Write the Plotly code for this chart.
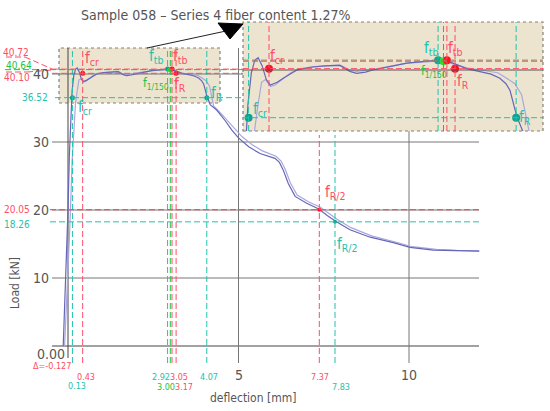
import plotly.graph_objects as go

# ---------------- data ----------------
curve_a_x = [-0.14, -0.10, -0.05, 0.00, 0.04, 0.08, 0.12, 0.17, 0.22, 0.27, 0.33, 0.39, 0.45, 0.55, 0.64,
             0.84, 1.04, 1.25, 1.47, 1.62, 1.72, 1.85, 1.96, 2.21, 2.46, 2.75, 2.95, 3.05, 3.14, 3.34,
             3.54, 3.70, 3.83, 3.92, 3.98, 4.03, 4.08, 4.17, 4.36, 4.60, 4.80, 5.00, 5.30, 5.63, 6.07,
             6.20, 6.31, 6.46, 6.66, 7.00, 7.37, 7.60, 7.86, 8.27, 8.86, 9.54, 10.03, 10.71, 11.40, 12.06]
curve_a_y = [0.0, 5.0, 12.0, 20.0, 28.0, 34.0, 37.5, 39.8, 40.7, 40.9, 40.3, 39.3, 38.9, 39.1, 39.4,
             40.0, 40.2, 40.3, 40.35, 39.9, 39.75, 39.85, 40.0, 40.24, 40.5, 40.65, 40.72, 40.65, 40.5, 40.1,
             39.9, 39.7, 39.4, 39.0, 38.5, 37.6, 36.6, 35.5, 34.7, 33.2, 31.8, 30.6, 29.3, 28.3, 27.6,
             27.0, 25.9, 23.9, 22.0, 21.0, 20.1, 19.2, 18.3, 17.1, 16.0, 15.2, 14.5, 14.1, 14.0, 13.95]

curve_b_x = [-0.10, -0.02, 0.05, 0.12, 0.18, 0.22, 0.27, 0.32, 0.38, 0.45, 0.52, 0.62, 0.75, 0.90, 1.10,
             1.30, 1.50, 1.62, 1.72, 1.96, 2.21, 2.46, 2.75, 2.95, 3.14, 3.34, 3.54, 3.80, 3.93, 4.05,
             4.15, 4.22, 4.27, 4.45, 4.70, 4.90, 5.10, 5.40, 5.70, 6.10, 6.25, 6.37, 6.52, 6.72, 7.05,
             7.40, 7.90, 8.30, 8.90, 9.60, 10.10, 10.80, 11.40, 12.06]
curve_b_y = [0.0, 8.0, 17.0, 27.0, 33.0, 35.7, 37.5, 39.1, 39.3, 38.8, 38.9, 39.3, 39.8, 40.1, 40.25,
             40.3, 40.3, 40.0, 39.9, 40.05, 40.3, 40.5, 40.6, 40.68, 40.45, 40.15, 40.0, 39.8, 39.4, 39.0,
             38.2, 36.5, 35.3, 34.4, 33.0, 31.8, 30.8, 29.6, 28.7, 27.9, 27.2, 26.0, 24.0, 22.2, 21.2,
             20.4, 18.6, 17.4, 16.2, 15.3, 14.6, 14.2, 14.05, 14.0]

# characteristic points
pt_names = ["fcr_c", "fcr_r", "ftb_c", "f150_g", "ftb_r", "fR_r", "fR_c", "fR2_r", "fR2_c"]
pt_x = [0.13, 0.43, 2.92, 3.00, 3.05, 3.17, 4.07, 7.37, 7.83]
pt_y = [36.52, 40.10, 40.72, 40.64, 40.72, 40.10, 36.52, 20.05, 18.26]
pt_col = ["c", "r", "c", "g", "r", "r", "c", "r", "c"]

x_ticks = [5, 10]
y_ticks = [10, 20, 30, 40]
vl_red = [0.43, 3.05, 3.17]
vl_cyan = [0.13, 2.92, 4.07]
vl_green = [3.00]
hl_red = [40.72, 40.10]
hl_green = [40.64]
title = "Sample 058 – Series 4 fiber content 1.27%"

# ---------------- styling / geometry ----------------
W, H = 550, 411
X0, SX, Y0, SY = 68, 34.1, 346, 6.8
def mx(p): return (p - X0) / SX
def my(p): return (Y0 - p) / SY
def PX(p): return p / W
def PY(p): return 1 - p / H

IX0, ISX, IY40, ISY = 239.8, 67.9, 70.0, 13.7
in_l, in_r, in_t, in_b = 243, 543, 22, 131
ixr = [(in_l - IX0) / ISX, (in_r - IX0) / ISX]
iyr = [40 - (in_b - IY40) / ISY, 40 + (IY40 - in_t) / ISY]

RED = "#ff4d66"
CYAN = "#22c2ae"
GREEN = "#22c23c"
COLS = {"r": RED, "c": CYAN, "g": GREEN}
DOTC = {"r": "#ff1020", "c": "#12a090", "g": "#30dd30"}
GRID = "#777777"
TXT = "#555555"
TAN = "#ede4d0"
DASH = "6px,3px"
FONT = "DejaVu Sans Condensed, Liberation Sans Narrow, Roboto Condensed, DejaVu Sans, sans-serif"

fig = go.Figure()

for cx, cy, col, ax in [(curve_b_x, curve_b_y, "#a8a8de", ("x", "y")),
                        (curve_a_x, curve_a_y, "#6666b8", ("x", "y")),
                        (curve_b_x, curve_b_y, "#a8a8de", ("x2", "y2")),
                        (curve_a_x, curve_a_y, "#6666b8", ("x2", "y2"))]:
    fig.add_trace(go.Scatter(x=cx, y=cy, mode="lines", line=dict(color=col, width=1.2),
                             xaxis=ax[0], yaxis=ax[1], hoverinfo="skip", showlegend=False))

# dots
for i in range(len(pt_x)):
    c = pt_col[i]
    sz = 4 if i >= 7 else 5
    fig.add_trace(go.Scatter(x=[pt_x[i]], y=[pt_y[i]], mode="markers",
                             marker=dict(color=DOTC[c], size=sz), showlegend=False, hoverinfo="skip"))
    if i < 7:
        fig.add_trace(go.Scatter(x=[pt_x[i]], y=[pt_y[i]], mode="markers", xaxis="x2", yaxis="y2",
                                 marker=dict(color=DOTC[c], size=8), showlegend=False, hoverinfo="skip"))

shapes = []
def seg(x0, y0, x1, y1, color, width=1, dash=None, xref="x", yref="y", layer="above"):
    d = dict(type="line", x0=x0, y0=y0, x1=x1, y1=y1, xref=xref, yref=yref, layer=layer,
             line=dict(color=color, width=width))
    if dash:
        d["line"]["dash"] = dash
    shapes.append(d)

# small tan box in main plot
shapes.append(dict(type="rect", xref="x", yref="y", x0=mx(59), x1=mx(220), y0=my(103), y1=my(48),
                   fillcolor=TAN, line=dict(color="#808080", width=1.2, dash="dot"), layer="below"))
# inset background
shapes.append(dict(type="rect", xref="paper", yref="paper", x0=PX(in_l), x1=PX(in_r), y0=PY(in_b), y1=PY(in_t),
                   fillcolor=TAN, line=dict(color="#808080", width=1.2, dash="dot"), layer="below"))

# main grid
for v in [0] + y_ticks:
    seg(mx(52), v, (mx(243) if v == 40 else mx(479)), v, "#444444" if v == 0 else GRID, 1, layer="below")
seg(0, my(358), 0, my(48), "#444444", 1, layer="below")
seg(5, my(363), 5, my(48), GRID, 1, layer="below")
seg(10, my(363), 10, my(131), GRID, 1, layer="below")

# main dashed lines
for v in vl_red:
    seg(v, my(363), v, my(48), RED, 1, DASH)
for v in vl_cyan:
    seg(v, my(363), v, my(48), CYAN, 1, DASH)
for v in vl_green:
    seg(v, my(363), v, my(48), GREEN, 1, DASH)
seg(pt_x[7], my(363), pt_x[7], my(135), RED, 1, DASH)
seg(pt_x[8], my(363), pt_x[8], my(135), CYAN, 1, DASH)
for v in hl_red:
    seg(mx(52), v, mx(243), v, RED, 1, DASH)
for v in hl_green:
    seg(mx(5), v, mx(243), v, GREEN, 1, DASH)
seg(mx(55), pt_y[0], mx(243), pt_y[0], CYAN, 1, DASH)
seg(mx(50), pt_y[7], mx(479), pt_y[7], RED, 1.3, DASH)
seg(mx(50), pt_y[8], mx(479), pt_y[8], CYAN, 1, DASH)
# leader lines for top labels
seg(PX(6), PY(57), PX(25), PY(57), RED, 1, DASH, "paper", "paper")
seg(PX(25), PY(57), PX(52), PY(69), RED, 1, DASH, "paper", "paper")
seg(PX(6), PY(72), PX(27), PY(72), RED, 1, DASH, "paper", "paper")
seg(PX(27), PY(72), PX(52), PY(70), RED, 1, DASH, "paper", "paper")

# inset lines
seg(ixr[0], 40, ixr[1], 40, "#555555", 1, xref="x2", yref="y2")
for v in vl_red:
    seg(v, iyr[0], v, iyr[1], RED, 1, DASH, "x2", "y2")
for v in vl_cyan:
    seg(v, iyr[0], v, iyr[1], CYAN, 1, DASH, "x2", "y2")
for v in vl_green:
    seg(v, iyr[0], v, iyr[1], GREEN, 1, DASH, "x2", "y2")
for v in hl_red:
    seg(ixr[0], v, ixr[1], v, RED, 1, DASH, "x2", "y2")
for v in hl_green:
    seg(ixr[0], v, ixr[1], v, GREEN, 1, DASH, "x2", "y2")
seg(ixr[0], pt_y[0], ixr[1], pt_y[0], CYAN, 1, DASH, "x2", "y2")

# arrow from box to inset
seg(PX(147), PY(48), PX(226), PY(31), "#222222", 1, xref="paper", yref="paper")
shapes.append(dict(type="path", xref="paper", yref="paper",
                   path=f"M {PX(218)},{PY(23)} L {PX(243)},{PY(24)} L {PX(230)},{PY(39)} Z",
                   fillcolor="#000000", line=dict(color="#000000", width=1)))

ann = []
def txt(x, y, s, color=TXT, size=12, xa="center", ya="middle", xref="paper", yref="paper", angle=0):
    ann.append(dict(x=x, y=y, text=s, xref=xref, yref=yref, xanchor=xa, yanchor=ya, showarrow=False,
                    textangle=angle, font=dict(family=FONT, size=size, color=color)))

txt(PX(215), PY(15), title, "#555555", 14)
# y ticks
txt(PX(67), PY(354), "0.00", TXT, 14, "right")
for v in y_ticks:
    txt(PX(51), v, str(v), TXT, 14, "right", "middle", "paper", "y")
for v in x_ticks:
    txt(v, PY(375), str(v), TXT, 14, "center", "middle", "x", "paper")
txt(PX(15), PY(283), "Load [kN]", TXT, 12, angle=-90)
txt(PX(253), PY(398), "deflection [mm]", TXT, 12)
txt(PX(52), PY(366), "Δ=-0.127", RED, 9)

# value labels on x (label pixel offsets relative to each dashed line, row)
xl_dx = [5, 3, -7, -4, 7, 8, 2, 1, 6]
xl_row = [386, 377, 377, 387, 377, 387, 377, 377, 387]
for i in range(len(pt_x)):
    ann.append(dict(x=pt_x[i], y=PY(xl_row[i]), xref="x", yref="paper", xshift=xl_dx[i],
                    text=f"{pt_x[i]:.2f}", showarrow=False, xanchor="center", yanchor="middle",
                    font=dict(family=FONT, size=9, color=COLS[pt_col[i]])))
# value labels on y
txt(PX(16), PY(52), f"{hl_red[0]:.2f}", RED, 10)
txt(PX(19), PY(65), f"{hl_green[0]:.2f}", GREEN, 10)
txt(PX(17), PY(77), f"{hl_red[1]:.2f}", RED, 10)
txt(PX(50), pt_y[0], f"{pt_y[0]:.2f}", CYAN, 10, "right", "middle", "paper", "y")
txt(PX(32), pt_y[7], f"{pt_y[7]:.2f}", RED, 10, "right", "middle", "paper", "y")
txt(PX(32), pt_y[8] - 0.4, f"{pt_y[8]:.2f}", CYAN, 10, "right", "middle", "paper", "y")

# symbol labels  (text, colour, left px, centre py, size)
labels = [
    ("f<sub>cr</sub>", RED, 83, 59, 15),
    ("f<sub>cr</sub>", CYAN, 76, 107, 15),
    ("f<sub>tb</sub>", CYAN, 147, 57, 15),
    ("f<sub>tb</sub>", RED, 171, 57, 15),
    ("f<sub>1/150</sub>", GREEN, 141, 84, 12),
    ("f<sub>R</sub>", RED, 172, 85, 15),
    ("f<sub>R</sub>", CYAN, 209, 93, 15),
    ("f<sub>R/2</sub>", RED, 323, 192, 15),
    ("f<sub>R/2</sub>", CYAN, 335, 244, 15),
    ("f<sub>cr</sub>", RED, 268, 56, 15),
    ("f<sub>cr</sub>", CYAN, 251, 109, 15),
    ("f<sub>tb</sub>", CYAN, 422, 49, 15),
    ("f<sub>tb</sub>", RED, 446, 49, 15),
    ("f<sub>1/150</sub>", GREEN, 419, 72, 12),
    ("f<sub>R</sub>", RED, 455, 82, 15),
    ("f<sub>R</sub>", CYAN, 517, 117, 15),
]
for s, c, lx, cy, sz in labels:
    txt(PX(lx), PY(cy), s, c, sz, "left", "middle")

fig.update_layout(
    width=W, height=H, margin=dict(l=0, r=0, t=0, b=0),
    paper_bgcolor="white", plot_bgcolor="rgba(0,0,0,0)",
    shapes=shapes, annotations=ann, showlegend=False,
    xaxis=dict(range=[mx(0), mx(W)], domain=[0, 1], visible=False, fixedrange=True),
    yaxis=dict(range=[my(H), my(0)], domain=[0, 1], visible=False, fixedrange=True),
    xaxis2=dict(range=ixr, domain=[PX(in_l), PX(in_r)], anchor="y2", visible=False, fixedrange=True),
    yaxis2=dict(range=iyr, domain=[PY(in_b), PY(in_t)], anchor="x2", visible=False, fixedrange=True),
)
fig.write_html("out.html", config={"displayModeBar": False},
               post_script="document.body.style.margin='0';document.body.style.overflow='hidden';")
